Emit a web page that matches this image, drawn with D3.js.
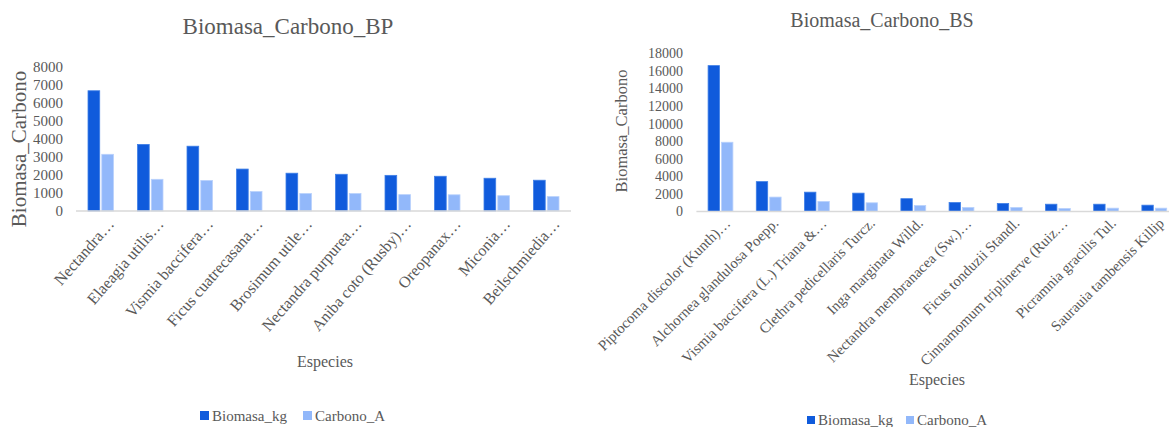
<!DOCTYPE html>
<html>
<head>
<meta charset="utf-8">
<script src="https://cdn.jsdelivr.net/npm/d3@7"></script>
<style>
  html, body { margin: 0; padding: 0; background: #fff; }
  svg { display: block; }
  text { font-family: "Liberation Serif", "Times New Roman", serif; fill: #595959; }
</style>
</head>
<body>
<svg id="chart" width="1169" height="427"></svg>
<script>
// ---- Data ----
const seriesNames = ["Biomasa_kg", "Carbono_A"];

const bpCategories = ["Nectandra…", "Elaeagia utilis…", "Vismia baccifera…", "Ficus cuatrecasana…",
  "Brosimum utile…", "Nectandra purpurea…", "Aniba coto (Rusby)…", "Oreopanax…", "Miconia…", "Beilschmiedia…"];
const bpBiomasa = [6680, 3700, 3600, 2330, 2100, 2040, 1980, 1930, 1820, 1710];
const bpCarbono = [3150, 1760, 1700, 1080, 970, 970, 910, 900, 850, 800];
const bpTicks = [0, 1000, 2000, 3000, 4000, 5000, 6000, 7000, 8000];

const bsCategories = ["Piptocoma discolor (Kunth)…", "Alchornea glandulosa Poepp.", "Vismia baccifera (L.) Triana &…",
  "Clethra pedicellaris Turcz.", "Inga marginata Willd.", "Nectandra membranacea (Sw.)…", "Ficus tonduzii Standl.",
  "Cinnamomum triplinerve (Ruiz…", "Picramnia gracilis Tul.", "Saurauia tambensis Killip"];
const bsBiomasa = [16600, 3400, 2200, 2090, 1460, 1020, 910, 830, 830, 720];
const bsCarbono = [7880, 1640, 1140, 990, 680, 460, 460, 350, 380, 380];
const bsTicks = [0, 2000, 4000, 6000, 8000, 10000, 12000, 14000, 16000, 18000];

const colors = ["#105BDC", "#92B8FA"];
const strokes = ["#3F7FE6", "#B9D1FC"];
const serif = '"Liberation Serif", "Times New Roman", serif';

const svg = d3.select("#chart");

function drawChart(cfg) {
  const g = svg.append("g");
  const rows = cfg.categories.map((c, i) => ({ cat: c, values: [cfg.s1[i], cfg.s2[i]] }));

  const x0 = d3.scaleBand().domain(cfg.categories).range(cfg.xRange)
    .paddingInner(0.485).paddingOuter(0.2425);
  const x1 = d3.scaleBand().domain(seriesNames).range([0, x0.bandwidth()]).paddingInner(0.15);
  const y = d3.scaleLinear().domain([0, d3.max(cfg.ticks)]).range(cfg.yRange);

  // y axis (labels only)
  const yAxis = d3.axisLeft(y).tickValues(cfg.ticks).tickSize(0).tickPadding(0).tickFormat(d3.format("d"));
  const ya = g.append("g").attr("transform", `translate(${cfg.yLabelX},0)`).call(yAxis);
  ya.attr("font-family", serif).attr("font-size", cfg.yTickSize);
  ya.select(".domain").remove();
  ya.selectAll("text").attr("font-size", cfg.yTickSize).style("fill", "#595959")
    .style("font-family", serif);

  // bars
  const grp = g.selectAll(".grp").data(rows).join("g")
    .attr("transform", d => `translate(${x0(d.cat)},0)`);
  grp.selectAll("rect").data(d => d.values.map((v, k) => ({ k, v }))).join("rect")
    .attr("x", d => x1(seriesNames[d.k]))
    .attr("width", x1.bandwidth())
    .attr("y", d => y(d.v))
    .attr("height", d => y(0) - y(d.v))
    .attr("fill", d => colors[d.k])
    .attr("stroke", d => strokes[d.k])
    .attr("stroke-width", 0.8);

  // x axis baseline
  const xAxis = d3.axisBottom(x0).tickSize(0).tickPadding(0);
  const xa = g.append("g").attr("transform", `translate(0,${y(0)})`).call(xAxis);
  xa.attr("font-family", serif).attr("font-size", cfg.xTickSize);
  xa.select(".domain").attr("stroke", "#D9D9D9").attr("stroke-width", 1.3)
    .attr("d", `M${cfg.xRange[0]},0H${Math.min(cfg.xRange[1], 1169)}`);
  xa.selectAll(".tick text")
    .attr("font-size", cfg.xTickSize)
    .style("fill", "#595959")
    .style("font-family", serif)
    .attr("text-anchor", "end")
    .attr("dy", "0.35em")
    .attr("y", 0)
    .attr("transform", `translate(${cfg.labelDx},${cfg.labelDy}) rotate(${cfg.labelAngle})`);

  // titles
  g.append("text").attr("x", cfg.titleX).attr("y", cfg.titleY).attr("text-anchor", "middle")
    .attr("font-size", cfg.titleSize).text(cfg.title);
  g.append("text").attr("transform", `translate(${cfg.yTitleX},${cfg.yTitleY}) rotate(-90)`)
    .attr("text-anchor", "middle").attr("font-size", cfg.yTitleSize).text("Biomasa_Carbono");
  g.append("text").attr("x", cfg.xTitleX).attr("y", cfg.xTitleY).attr("text-anchor", "middle")
    .attr("font-size", 16).text("Especies");

  // legend
  const lg = g.append("g");
  seriesNames.forEach((s, k) => {
    lg.append("rect").attr("x", cfg.legendX[k]).attr("y", cfg.legendY - cfg.legendSq - 1)
      .attr("width", cfg.legendSq).attr("height", cfg.legendSq).attr("fill", colors[k]);
    lg.append("text").attr("x", cfg.legendX[k] + cfg.legendSq + 3).attr("y", cfg.legendY)
      .attr("font-size", 15).text(s);
  });
}

drawChart({
  categories: bpCategories, s1: bpBiomasa, s2: bpCarbono, ticks: bpTicks,
  xRange: [76, 571], yRange: [211, 67], yLabelX: 63, yTickSize: 15, xTickSize: 16,
  labelDx: 10, labelDy: 10, labelAngle: -49,
  title: "Biomasa_Carbono_BP", titleX: 288, titleY: 34, titleSize: 23,
  yTitleX: 26, yTitleY: 149, yTitleSize: 21,
  xTitleX: 325, xTitleY: 367,
  legendX: [200, 303], legendY: 421, legendSq: 9
});

drawChart({
  categories: bsCategories, s1: bsBiomasa, s2: bsCarbono, ticks: bsTicks,
  xRange: [696.4, 1178.4], yRange: [211.5, 53.3], yLabelX: 683, yTickSize: 14, xTickSize: 14.8,
  labelDx: 7, labelDy: 9, labelAngle: -45,
  title: "Biomasa_Carbono_BS", titleX: 882, titleY: 27, titleSize: 20,
  yTitleX: 627, yTitleY: 131, yTitleSize: 16.5,
  xTitleX: 937, xTitleY: 385,
  legendX: [807, 906], legendY: 425, legendSq: 8
});
</script>
</body>
</html>
